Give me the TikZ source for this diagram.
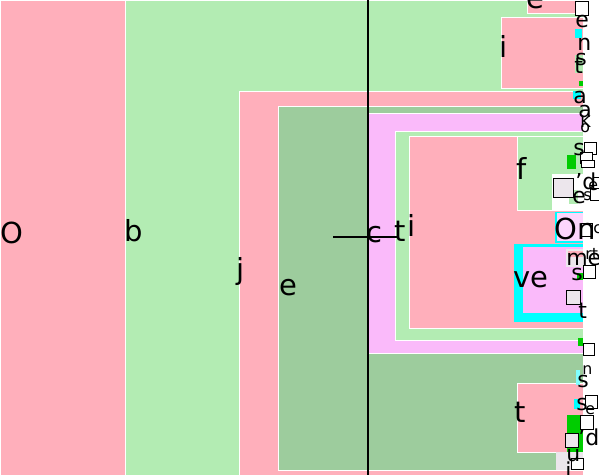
\documentclass[tikz,border=0pt]{standalone}
\usepackage{fontspec}
\setmainfont{DejaVu Sans}
\definecolor{pinkc}{RGB}{255,175,187}
\definecolor{greenc}{RGB}{179,236,179}
\definecolor{dgreenc}{RGB}{157,204,157}
\definecolor{magc}{RGB}{250,186,250}
\definecolor{grayc}{RGB}{236,230,236}
\definecolor{brightg}{RGB}{0,204,0}
\definecolor{cyanc}{RGB}{0,255,255}

\begin{document}
\begin{tikzpicture}[x=0.02cm,y=-0.02cm,
  cell/.style={draw=white,line width=0.3pt},
  big/.style={anchor=west,inner sep=0pt,font=\fontsize{16.5}{16.5}\selectfont},
  mid/.style={anchor=west,inner sep=0pt,font=\fontsize{12.5}{12.5}\selectfont},
  tiny/.style={anchor=west,inner sep=0pt,font=\fontsize{9}{9}\selectfont},
  sqbox/.style={draw=black,line width=0.5pt}]
\useasboundingbox (0,0) rectangle (599,475);
\fill[white] (0,0) rectangle (599,475);
% large cells
\draw[cell,fill=pinkc] (0,0) rectangle (125,475);
\draw[cell,fill=greenc] (125,0) rectangle (583,475);
\draw[cell,fill=pinkc] (527,0) rectangle (583,13);
\draw[cell,fill=pinkc] (501,17) rectangle (583,88);
\draw[cell,fill=pinkc] (239,91) rectangle (583,475);
\draw[cell,fill=dgreenc] (278,106) rectangle (583,470);
\draw[cell,fill=magc] (367,113) rectangle (583,353);
\draw[cell,fill=greenc] (395,131) rectangle (583,340);
\draw[cell,fill=pinkc] (409,136) rectangle (583,328);
\draw[cell,fill=greenc] (517,136) rectangle (583,210);
\draw[cell,fill=white] (552,174) rectangle (583,210);
\fill[greenc] (569,190) rectangle (578,204);
\fill[brightg] (567,155) rectangle (576,169);
\fill[cyanc] (555,212) rectangle (583,243);
\fill[magc!60!white] (557,213) rectangle (583,241);
\fill[cyanc] (514,244) rectangle (583,322);
\fill[magc] (523,247) rectangle (583,313);
\fill[grayc] (566,249) rectangle (583,267);
\fill[pinkc] (568,251) rectangle (583,257);
\draw[cell,fill=pinkc] (517,383) rectangle (583,452);
\fill[brightg] (567,415) rectangle (583,452);
\fill[grayc] (556,452) rectangle (583,470);
% small marks on the right edge
\fill[cyanc] (575,29) rectangle (582,38);
\fill[greenc] (575,55) rectangle (583,73);
\fill[brightg] (579,81) rectangle (583,86);
\fill[cyanc] (573,91) rectangle (581,99);
\fill[brightg] (577,273) rectangle (583,280);
\fill[brightg] (578,338) rectangle (583,346);
\fill[cyanc!50!white] (576,370) rectangle (580,385);
\fill[cyanc] (574,399) rectangle (580,409);
% boxes
\foreach \xa/\ya/\xb/\yb in {575/1/588/15, 584/142/596/154, 580/152/592/163,
    581/160/594/167, 593/177/599/188, 590/188/599/200, 581/223/592/236,
    583/265/595/278, 583/343/594/355, 585/395/597/408, 580/415/593/429,
    571/458/583/469}
  \draw[sqbox,fill=white] (\xa,\ya) rectangle (\xb,\yb);
\foreach \xa/\ya/\xb/\yb in {553/178/573/197, 566/290/580/304, 565/433/578/447}
  \draw[sqbox,fill=grayc] (\xa,\ya) rectangle (\xb,\yb);
% lines
\coordinate (top) at (368,0);
\coordinate (bot) at (368,475);
\coordinate (hl) at (333,237);
\coordinate (hr) at (397,237);
\draw[line width=0.6pt] (top) -- (bot);
\draw[line width=0.6pt] (hl) -- (hr);
% labels
\node[big] (lO) at (0,233) {O};
\node[big] (lb) at (124,231) {b};
\node[big] (lj) at (236,272) {j};
\node[big] (le) at (279,288) {e};
\node[big] (lc) at (366,235) {c};
\node[big] (lt) at (394,231) {t};
\node[big] (li) at (407,225) {i};
\node[big] (lf) at (516,168) {f};
\node[big] (li2) at (499,46) {i};
\node[big] (le2) at (526,1) {e};
\node[big] (lOn) at (554,229) {On};
\node[big] (lve) at (513,280) {ve};
\node[big] (lt2) at (514,412) {t};
\node[mid] (le3) at (575,22) {e};
\node[mid] (ln) at (577,44) {n};
\node[mid] (ls) at (575,60) {s};
\node[mid] (lt3) at (574,66) {t};
\node[mid] (la) at (573,98) {a};
\node[mid] (la2) at (578,112) {a};
\node[tiny] (lk) at (580,122) {K};
\node[tiny] (lo) at (580,128) {o};
\node[mid] (ls2) at (573,150) {s};
\node[mid] (ld) at (575,181) {'d};
\node[tiny] (le4) at (588,186) {e};
\node[mid] (le5) at (572,198) {e};
\node[tiny] (ls3) at (583,196) {s};
\node[tiny] (lc2) at (593,229) {c};
\node[mid] (lme) at (566,260) {me};
\node[tiny] (lrt) at (585,254) {rt};
\node[mid] (ls4) at (571,275) {s};
\node[mid] (lt4) at (578,311) {t};
\node[tiny] (ln2) at (582,370) {n};
\node[mid] (ls5) at (577,382) {s};
\node[mid] (ls6) at (576,405) {s};
\node[tiny] (le6) at (585,410) {e};
\node[mid] (ld2) at (578,437) {'de};
\node[mid] (lu) at (566,456) {u};
\node[mid] (li3) at (565,470) {i};
\end{tikzpicture}
\end{document}
